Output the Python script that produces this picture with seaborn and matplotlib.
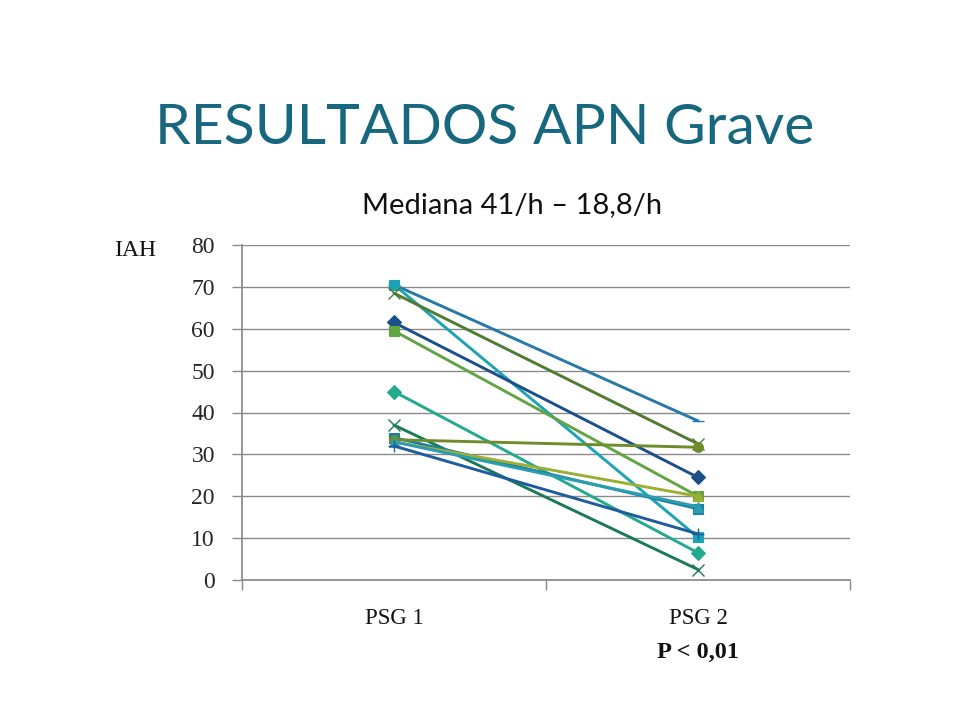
import matplotlib
matplotlib.use("Agg")
import matplotlib.pyplot as plt
import seaborn as sns
import pandas as pd

categories = ["PSG 1", "PSG 2"]
series_names = [f"P{i}" for i in range(1, 13)]
psg1 = [70.5, 70.5, 68.5, 61.5, 59.5, 45, 37, 34, 33.5, 33, 33, 32]
psg2 = [38, 10.2, 32.5, 24.5, 20, 6.5, 2.5, 17, 31.7, 20, 17.5, 11]
colors = ["#2779A6", "#1CA3B5", "#4F7B33", "#1B4F8A", "#62A443", "#22AA8E",
          "#1A7A57", "#1E7FA3", "#6F8C2C", "#9DAE34", "#2A9DB0", "#1E5C9C"]
markers = ["_", "s", "x", "D", "s", "D", "x", "s", "o", "^", "^", "+"]
y_ticks = [0, 10, 20, 30, 40, 50, 60, 70, 80]

rows = []
for name, a, b in zip(series_names, psg1, psg2):
    rows.append({"serie": name, "pos": 0, "val": a})
    rows.append({"serie": name, "pos": 1, "val": b})
df = pd.DataFrame(rows)

sns.set_theme(style="white")
plt.rcParams["font.family"] = ["DejaVu Sans"]

fig = plt.figure(figsize=(9.6, 7.2), dpi=100)
ax = fig.add_axes([242/960, 1-580/720, (850-242)/960, (580-245)/720])

for name, c, m in zip(series_names, colors, markers):
    sub = df[df["serie"] == name]
    filled = m not in ("x", "+", "_")
    sns.lineplot(data=sub, x="pos", y="val", ax=ax, color=c, marker=m,
                 markersize=7 if filled else 8, linewidth=2.1,
                 markeredgecolor=c, markeredgewidth=1.0 if not filled else 0.8,
                 legend=False, zorder=3)

ax.set_xlim(-0.5, 1.5)
ax.set_ylim(0, 80)
ax.set_yticks(y_ticks)
ax.set_yticklabels([str(v) for v in y_ticks], family="Liberation Serif", fontsize=17)
ax.yaxis.grid(True, color="#8a8a8a", linewidth=1.0)
ax.xaxis.grid(False)
ax.set_xticks([-0.5, 0.5, 1.5])
ax.set_xticklabels([])
ax.tick_params(axis="both", direction="out", length=7.5, width=1, color="#8a8a8a",
               left=True, bottom=True)
ax.tick_params(axis="y", pad=12)
for side in ["top", "right"]:
    ax.spines[side].set_visible(False)
ax.spines["left"].set_color("#8a8a8a")
ax.spines["bottom"].set_color("#8a8a8a")
ax.set_xlabel("")
ax.set_ylabel("")
ax.set_facecolor("white")

for i, cat in enumerate(categories):
    ax.text(i, -9.2, cat, ha="center", va="center", family="Liberation Serif",
            fontsize=16.5, color="#111111")
ax.text(1, -17.2, "P < 0,01", ha="center", va="center", family="Liberation Serif",
        fontsize=17.5, fontweight="bold", color="#111111")

fig.text(135/960, 1-250/720, "IAH", ha="center", va="center",
         family="Liberation Serif", fontsize=17, color="#111111")
fig.text(485/960, 1-128/720, "RESULTADOS APN Grave", ha="center", va="center",
         family="Lato", fontsize=41, color="#17687F")
fig.text(512/960, 1-205/720, "Mediana 41/h \u2013 18,8/h", ha="center", va="center",
         family="Lato", fontsize=21, color="#111111")

fig.savefig("out.png", dpi=100, facecolor="white")
